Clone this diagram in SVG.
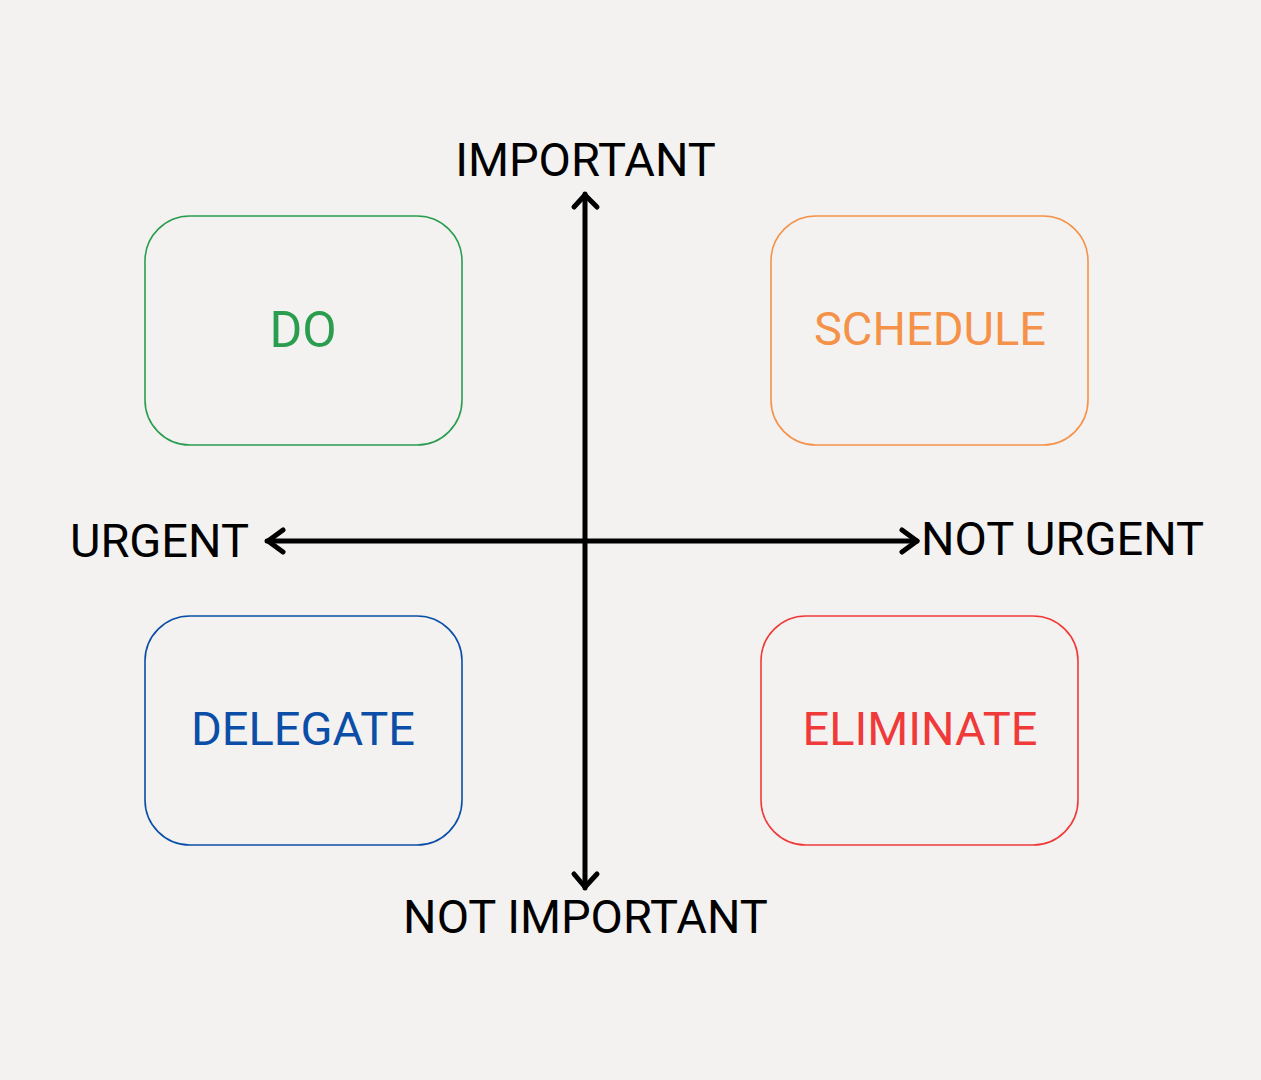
<svg xmlns="http://www.w3.org/2000/svg" width="1261" height="1080" viewBox="0 0 1261 1080">
<style>
text{font-family:Roboto,"Liberation Sans",sans-serif;font-size:47px}
.lbl{fill:#000}
.box{fill:none;stroke-width:1.6}
.ax{stroke:#000;stroke-width:5;fill:none;stroke-linecap:round;stroke-linejoin:round}
</style>
<rect width="1261" height="1080" fill="#f3f2f0"/>
<g id="connectors">
<path class="ax" d="M585 194 V888"/>
<path class="ax" d="M574 207 L585 195 L597 207"/>
<path class="ax" d="M574 874 L585 887 L597 874"/>
<path class="ax" d="M267 541 H917"/>
<path class="ax" d="M283 530 L268 541 L283 552"/>
<path class="ax" d="M902 530 L917 541 L902 552"/>
</g>
<g id="important"><text class="lbl" x="585.5" y="176" text-anchor="middle">IMPORTANT</text></g>
<g id="not-important"><text class="lbl" x="585.5" y="933" text-anchor="middle">NOT IMPORTANT</text></g>
<g id="urgent"><text class="lbl" x="249" y="557" text-anchor="end">URGENT</text></g>
<g id="not-urgent"><text class="lbl" x="921" y="555">NOT URGENT</text></g>
<g id="do">
<rect class="box" x="145" y="216" width="317" height="229" rx="45" stroke="#2a9d4f"/>
<text x="303" y="347" text-anchor="middle" fill="#2a9d4f" style="font-size:50px">DO</text>
</g>
<g id="schedule">
<rect class="box" x="771" y="216" width="317" height="229" rx="45" stroke="#f5924a"/>
<text x="930" y="345" text-anchor="middle" fill="#f5924a">SCHEDULE</text>
</g>
<g id="delegate">
<rect class="box" x="145" y="616" width="317" height="229" rx="45" stroke="#0b4ea8"/>
<text x="303" y="745" text-anchor="middle" fill="#0b4ea8">DELEGATE</text>
</g>
<g id="eliminate">
<rect class="box" x="761" y="616" width="317" height="229" rx="45" stroke="#f03a3a"/>
<text x="920" y="745" text-anchor="middle" fill="#f03a3a">ELIMINATE</text>
</g>
</svg>
